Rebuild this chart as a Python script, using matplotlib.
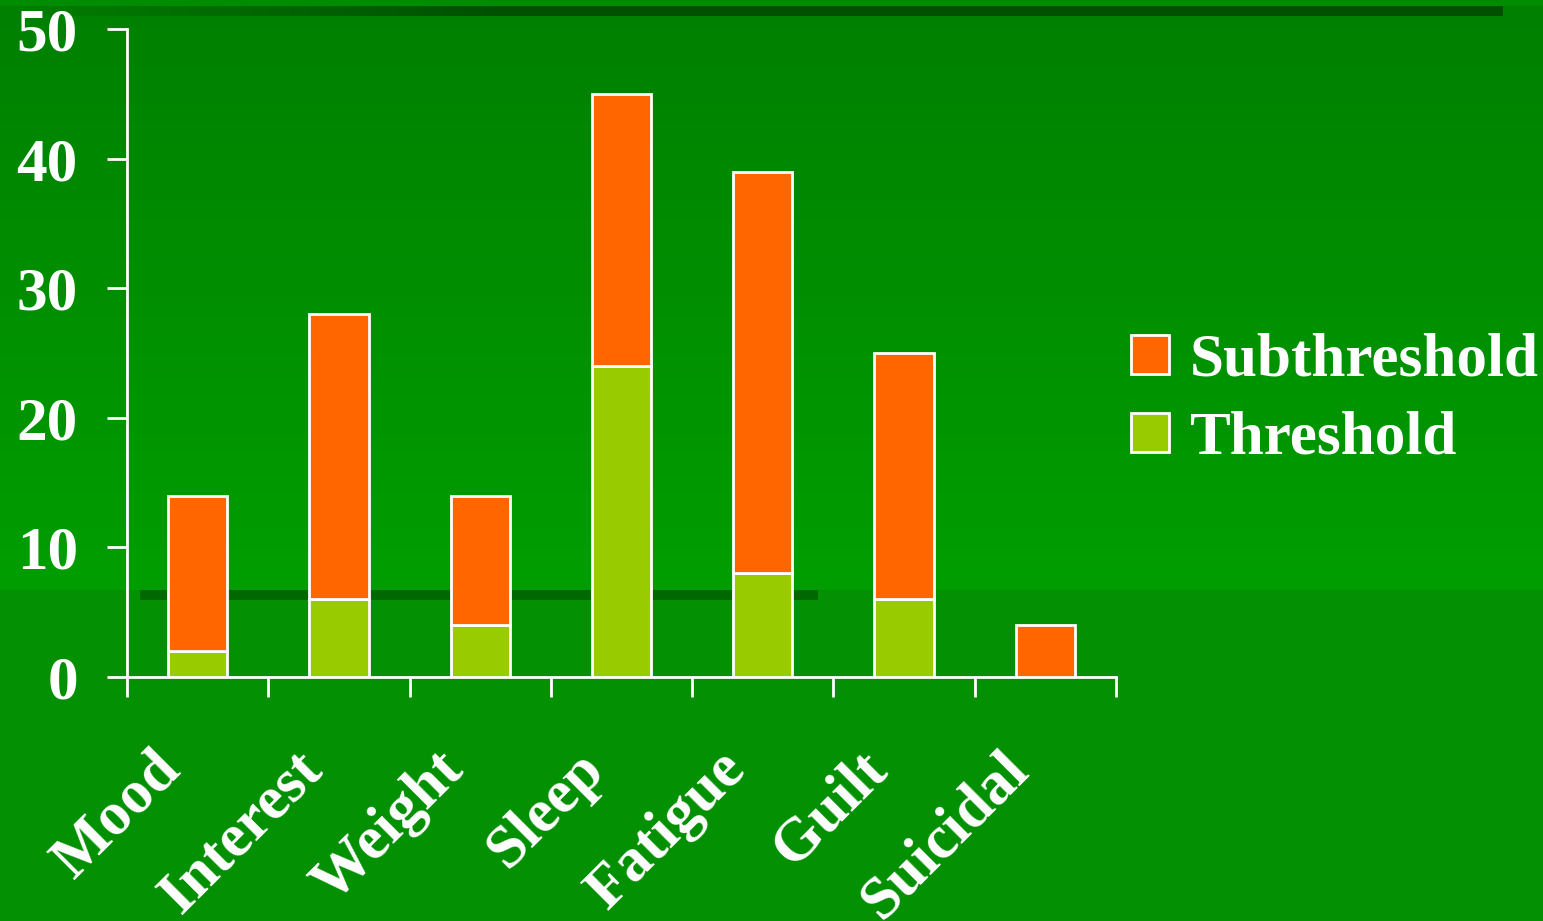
import numpy as np
import matplotlib
matplotlib.use('Agg')
import matplotlib.pyplot as plt
from matplotlib.patches import Rectangle
from matplotlib.colors import LinearSegmentedColormap

# 数据
categories = ['Mood', 'Interest', 'Weight', 'Sleep', 'Fatigue', 'Guilt', 'Suicidal']
threshold = [2, 6, 4, 24, 8, 6, 0]
totals = [14, 28, 14, 45, 39, 25, 4]
subthreshold = [t - th for t, th in zip(totals, threshold)]

plt.rcParams['font.family'] = ['Liberation Serif', 'DejaVu Serif']
plt.rcParams['font.weight'] = 'bold'

W, H = 1543, 921
FS = 44
fig = plt.figure(figsize=(W / 100, H / 100), dpi=100)

# 背景（幻灯片模板的绿色渐变和深色横条）
bg = fig.add_axes([0, 0, 1, 1], zorder=-10)
bg.axis('off')
grad = LinearSegmentedColormap.from_list('g', ['#008000', '#009E00'])
bg.imshow(np.linspace(0, 1, 200).reshape(-1, 1), cmap=grad, aspect='auto',
          extent=[0, W, 590, 6])
bg.add_patch(Rectangle((0, 0), W, 6, color='#008C00', lw=0))
bg.add_patch(Rectangle((0, 590), W, H - 590, color='#039003', lw=0))
fade = LinearSegmentedColormap.from_list('f', ['#008000', '#005000'])
bg.imshow(np.linspace(0, 1, 100).reshape(1, -1), cmap=fade, aspect='auto',
          extent=[0, 500, 16, 6])
bg.add_patch(Rectangle((500, 6), 1003, 10, color='#005000', lw=0))
fade2 = LinearSegmentedColormap.from_list('f2', ['#039003', '#006800'])
bg.imshow(np.linspace(0, 1, 100).reshape(1, -1), cmap=fade2, aspect='auto',
          extent=[0, 140, 600, 590])
bg.add_patch(Rectangle((140, 590), 678, 10, color='#006800', lw=0))
bg.set_xlim(0, W)
bg.set_ylim(H, 0)

# 主图
ax = fig.add_axes([127 / W, 1 - 677 / H, (1116 - 127) / W, (677 - 29) / H])
ax.patch.set_alpha(0)
x = np.arange(len(categories))
ax.bar(x, threshold, width=0.42, color='#99CC00', edgecolor='white', linewidth=2,
       label='Threshold', zorder=3)
ax.bar(x, subthreshold, width=0.42, bottom=threshold, color='#FF6600',
       edgecolor='white', linewidth=2, label='Subthreshold', zorder=3)

ax.set_xlim(-0.5, len(categories) - 0.5)
ax.set_ylim(0, 50)
for s in ['top', 'right']:
    ax.spines[s].set_visible(False)
for s in ['left', 'bottom']:
    ax.spines[s].set_color('white')
    ax.spines[s].set_linewidth(2)

ax.set_yticks(range(0, 51, 10))
ax.tick_params(axis='y', colors='white', labelsize=FS, length=14.4, width=2, pad=21)
ax.set_xticks(np.arange(-0.5, len(categories), 1))
ax.set_xticklabels([])
ax.tick_params(axis='x', which='major', colors='white', length=14.4, width=2)
for lab in ax.get_yticklabels():
    lab.set_fontweight('bold')

# 斜放的类别标签
for i, name in enumerate(categories):
    ax.annotate(name, xy=(i, 0), xycoords=('data', 'axes fraction'),
                xytext=(-33, -46), textcoords='offset points',
                rotation=45, rotation_mode='anchor', ha='right', va='top',
                fontsize=FS, fontweight='bold', color='white',
                annotation_clip=False)

handles, labels = ax.get_legend_handles_labels()
leg = fig.legend(handles[::-1], labels[::-1], loc='center left',
                 bbox_to_anchor=(1107 / W, 1 - 400 / H), frameon=False,
                 fontsize=FS, handlelength=0.62, handleheight=0.59,
                 handletextpad=0.33, labelspacing=0.36, borderaxespad=0)
for t in leg.get_texts():
    t.set_color('white')
    t.set_fontweight('bold')

fig.savefig('out.png', dpi=100)
